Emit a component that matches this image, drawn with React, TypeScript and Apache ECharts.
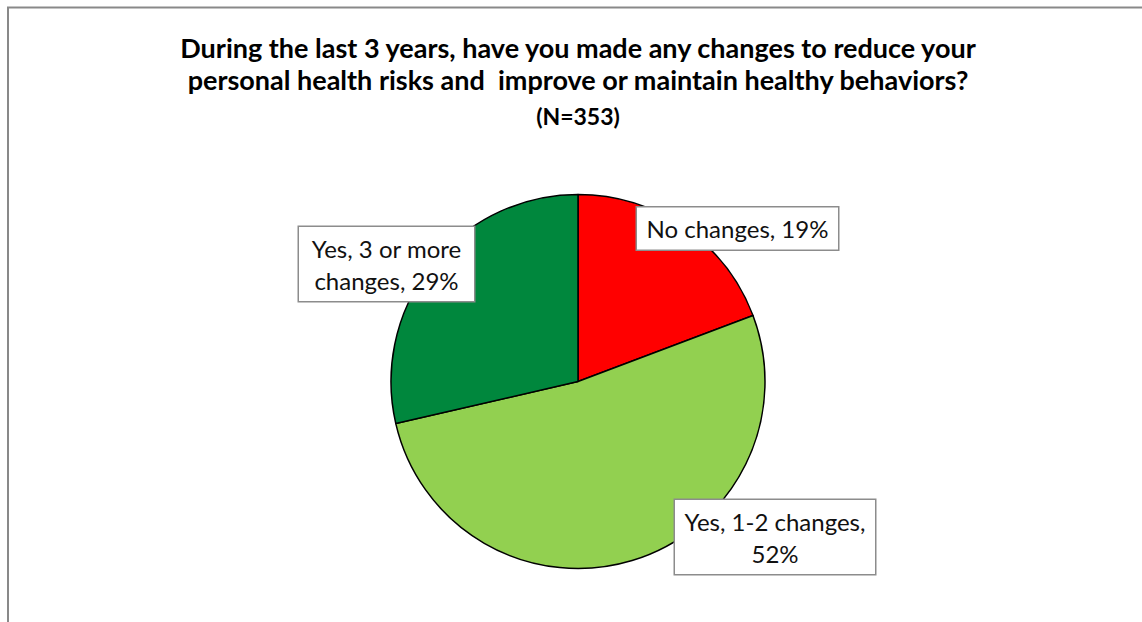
import React, { useEffect, useRef } from "react";
import * as echarts from "echarts";

const titleLines = [
  "During the last 3 years, have you made any changes to reduce your",
  "personal health risks and  improve or maintain healthy behaviors?",
];
const subtitle = "(N=353)";
const categories = ["No changes", "Yes, 1-2 changes", "Yes, 3 or more changes"];
const counts = [68, 184, 101];
const colors = ["#FF0000", "#92D050", "#00873D"];
// label text templates ({n} = name, {p} = percent)
const labelTemplates = ["{n}, {p}%", "{n},\n{p}%", "Yes, 3 or more\nchanges, {p}%"];
// label box centres and widths (layout only)
const labelCenters = [
  [737.5, 228.5],
  [775, 537],
  [386.5, 264],
];
const labelWidths = [181, 180, 155];

export default function App() {
  const ref = useRef<HTMLDivElement>(null);
  useEffect(() => {
    if (!ref.current) return;
    const chart = echarts.init(ref.current, null, { renderer: "svg" });
    const total = counts.reduce((a, b) => a + b, 0);
    chart.setOption({
      animation: false,
      backgroundColor: "#ffffff",
      graphic: [
        {
          type: "rect",
          shape: { x: 8, y: 7.5, width: 1300, height: 800 },
          style: { fill: "none", stroke: "#898989", lineWidth: 2 },
          silent: true,
        },
        ...titleLines.map((t, i) => ({
          type: "text",
          x: 578,
          y: 47 + i * 32.5,
          style: {
            text: t,
            fontFamily: "Lato",
            fontWeight: "bold",
            fontSize: 27,
            fill: "#000",
            align: "center",
            verticalAlign: "middle",
          },
        })),
        {
          type: "text",
          x: 578,
          y: 116,
          style: {
            text: subtitle,
            fontFamily: "Lato",
            fontWeight: "bold",
            fontSize: 23,
            fill: "#000",
            align: "center",
            verticalAlign: "middle",
          },
        },
      ],
      series: [
        {
          type: "pie",
          center: [578, 381.5],
          radius: 187,
          startAngle: 90,
          clockwise: true,
          itemStyle: { borderColor: "#000", borderWidth: 1.5 },
          labelLine: { show: false },
          emphasis: { disabled: true },
          label: {
            show: true,
            position: "outside",
            fontFamily: "Lato",
            fontSize: 24,
            lineHeight: 32,
            color: "#111",
            backgroundColor: "#fff",
            borderColor: "#8c8c8c",
            borderWidth: 1.5,
            padding: [5, 10],
            align: "center",
            overflow: "none",
          },
          labelLayout: (params: any) => {
            const c = labelCenters[params.dataIndex];
            return { x: c[0], y: c[1], align: "center", verticalAlign: "middle" };
          },
          data: categories.map((n, i) => ({
            name: n,
            value: counts[i],
            itemStyle: { color: colors[i] },
            label: {
              width: labelWidths[i],
              formatter: labelTemplates[i]
                .replace("{n}", n)
                .replace("{p}", String(Math.round((counts[i] / total) * 100))),
            },
          })),
        },
      ],
    });
    return () => chart.dispose();
  }, []);
  return (
    <div
      ref={ref}
      style={{ position: "absolute", left: 0, top: 0, width: 1142, height: 622 }}
    />
  );
}
